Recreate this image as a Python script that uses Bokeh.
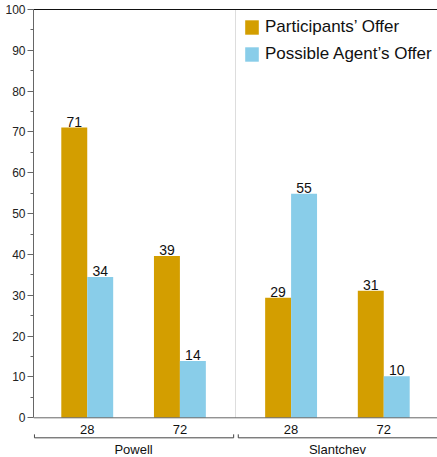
from bokeh.plotting import figure
from bokeh.models import (FactorRange, Range1d, LinearAxis, CategoricalAxis, FixedTicker,
                          ColumnDataSource, Legend, LegendItem, Span)
from bokeh.transform import dodge
from bokeh.core.properties import value
from bokeh.embed import file_html
from bokeh.resources import INLINE

# ---- data ----
studies = ["Powell", "Slantchev"]
conditions = ["28", "72"]
participants_offer = [71.1, 39.6, 29.4, 31.1]
agent_offer = [34.5, 13.9, 54.9, 10.2]
participants_labels = ["71", "39", "29", "31"]
agent_labels = ["34", "14", "55", "10"]
series_names = ["Participants\u2019 Offer", "Possible Agent\u2019s Offer"]
y_ticks = [0, 10, 20, 30, 40, 50, 60, 70, 80, 90, 100]
y_minor_ticks = [5, 15, 25, 35, 45, 55, 65, 75, 85, 95]

# ---- style ----
FONT = "Liberation Sans"
ORANGE = "#D39E00"
BLUE = "#89CDE9"
AXIS = "#666666"
TEXT = "#111111"

factors = [(s, c) for s in studies for c in conditions]

x_range = FactorRange(*factors, group_padding=0.2, factor_padding=0.0,
                      range_padding=0.08, range_padding_units="absolute")

p = figure(x_range=x_range, y_range=Range1d(-9.72, 100),
           width=437, height=457, output_backend="svg", toolbar_location=None,
           min_border_left=33, min_border_right=0, min_border_top=9,
           min_border_bottom=0, x_axis_location=None, y_axis_location=None)
p.outline_line_color = None
p.background_fill_color = "white"
p.border_fill_color = "white"
p.xgrid.visible = False
p.ygrid.visible = False

# left axis
yaxis = LinearAxis(ticker=FixedTicker(ticks=y_ticks, minor_ticks=y_minor_ticks),
                   bounds=(0, 100),
                   axis_line_color=AXIS, major_tick_line_color=AXIS,
                   minor_tick_line_color=AXIS,
                   major_tick_in=0, major_tick_out=6,
                   minor_tick_in=0, minor_tick_out=3,
                   major_label_standoff=2,
                   major_label_text_font=FONT,
                   major_label_text_font_size="12px",
                   major_label_text_color="#222222")
p.add_layout(yaxis, "left")

# top border line: an axis with nothing but its line
p.extra_x_ranges = {"top": FactorRange(" ")}
top_axis = CategoricalAxis(x_range_name="top", axis_line_color="#111111",
                           major_tick_line_color=None, minor_tick_line_color=None,
                           major_tick_in=0, major_tick_out=0,
                           major_label_standoff=0,
                           major_label_text_font_size="0px",
                           major_label_text_alpha=0)
p.add_layout(top_axis, "above")

# x-axis baseline
p.add_layout(Span(location=0, dimension="width", line_color=AXIS, line_width=1))

# separator between the groups
p.segment(x0=[(studies[0], conditions[-1], 0.6)], y0=[0],
          x1=[(studies[0], conditions[-1], 0.6)], y1=[100],
          line_color="#dddddd", line_width=1)

src = ColumnDataSource(dict(x=factors, p=participants_offer, a=agent_offer,
                            pl=participants_labels, al=agent_labels))

r1 = p.vbar(x=dodge("x", -0.14, range=p.x_range), top="p", width=0.28,
            source=src, fill_color=ORANGE, line_color=None)
r2 = p.vbar(x=dodge("x", 0.14, range=p.x_range), top="a", width=0.28,
            source=src, fill_color=BLUE, line_color=None)

p.text(x=dodge("x", -0.14, range=p.x_range), y="p", text="pl", source=src,
       text_align="center", text_baseline="alphabetic", y_offset=-6,
       text_font=value(FONT), text_font_size="14px", text_color=TEXT)
p.text(x=dodge("x", 0.14, range=p.x_range), y="a", text="al", source=src,
       text_align="center", text_baseline="alphabetic", y_offset=-6,
       text_font=value(FONT), text_font_size="14px", text_color=TEXT)

# category tick labels
tick_src = ColumnDataSource(dict(x=factors, t=[c for s, c in factors]))
p.text(x="x", y=-3.92, text="t", source=tick_src, text_align="center",
       text_baseline="alphabetic", y_offset=-4, text_font=value(FONT),
       text_font_size="13px", text_color=TEXT)

# group brackets
bracket_xs = [[(s, conditions[0], -0.57), (s, conditions[0], -0.57),
               (s, conditions[-1], 0.58), (s, conditions[-1], 0.58)]
              for s in studies]
bracket_ys = [[-4.05, -4.9, -4.9, -4.05] for s in studies]
p.multi_line(xs=bracket_xs, ys=bracket_ys, line_color="#444444", line_width=1)

# group labels
grp_src = ColumnDataSource(dict(x=[(s, conditions[0], 0.5) for s in studies],
                                t=studies))
p.text(x="x", y=-8.84, text="t", source=grp_src, text_align="center",
       text_baseline="alphabetic", y_offset=-4, text_font=value(FONT),
       text_font_size="13px", text_color=TEXT)

legend = Legend(items=[LegendItem(label=series_names[0], renderers=[r1]),
                       LegendItem(label=series_names[1], renderers=[r2])],
                location=(210, 393), padding=0, margin=0, spacing=7,
                glyph_width=17, glyph_height=18, label_height=18,
                label_standoff=5,
                label_text_font=FONT, label_text_font_size="17px",
                label_text_color=TEXT,
                background_fill_alpha=0, border_line_color=None)
p.add_layout(legend)

open("out.html", "w").write(file_html(p, INLINE))
